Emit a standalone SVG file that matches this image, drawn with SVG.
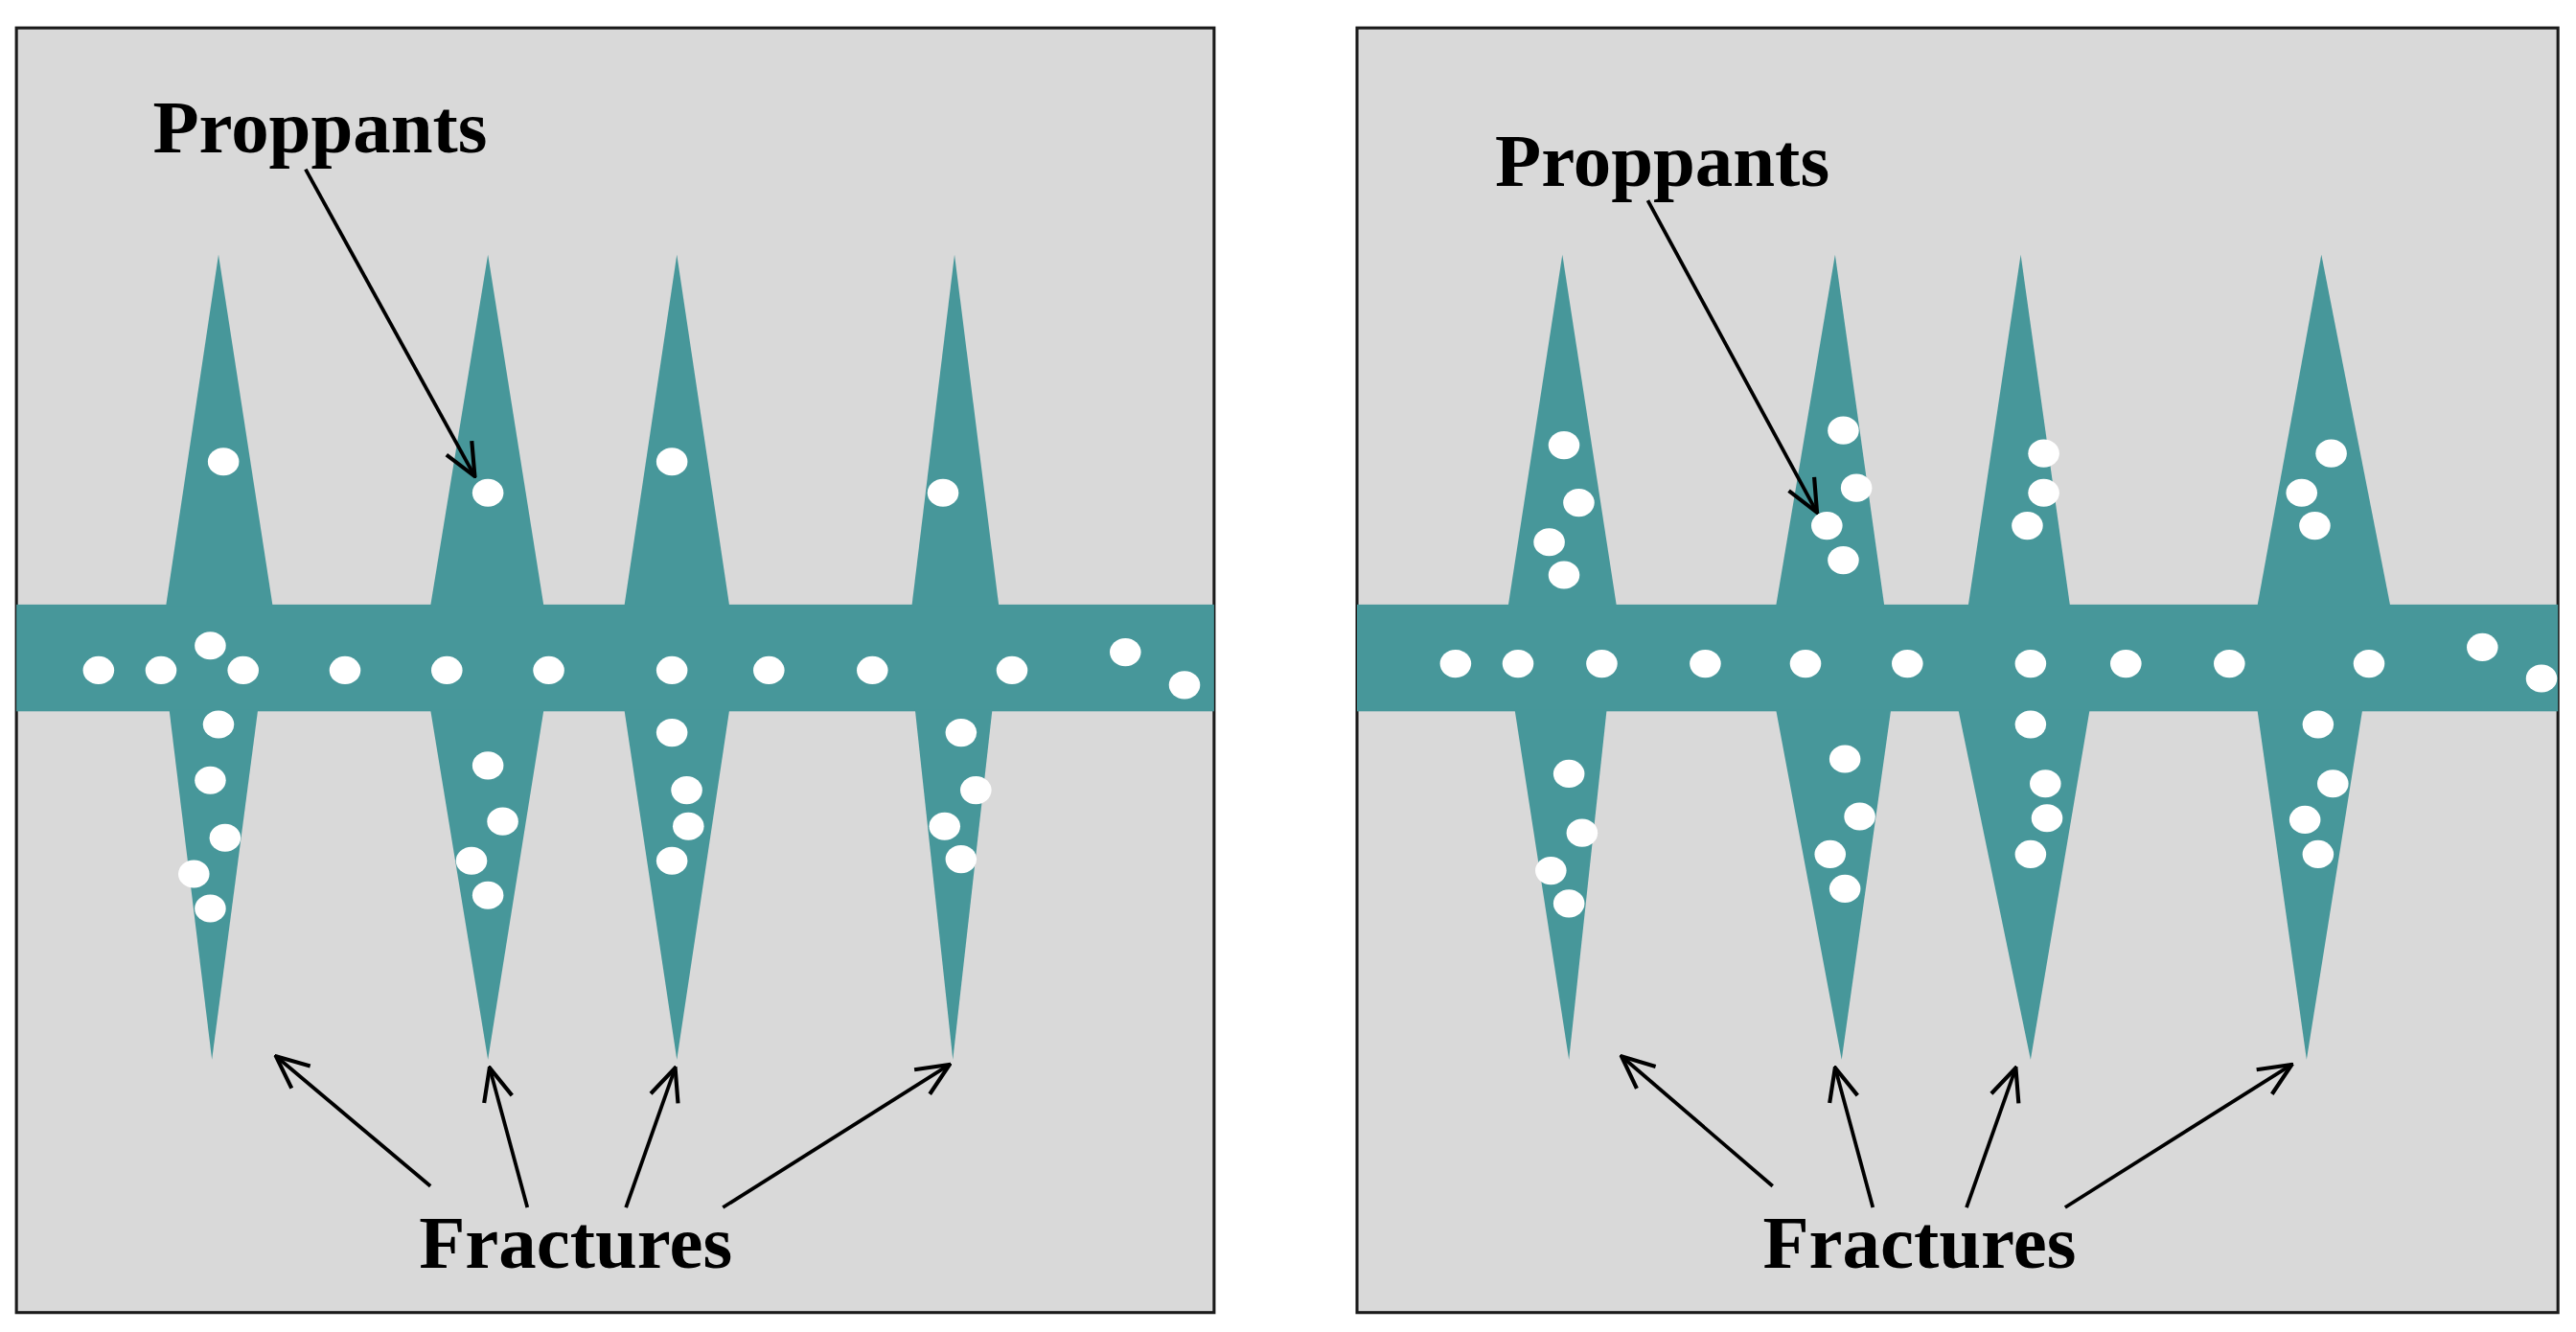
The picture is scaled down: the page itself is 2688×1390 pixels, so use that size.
<svg xmlns="http://www.w3.org/2000/svg" width="2688" height="1390" viewBox="0 0 2688 1390">
<style>
.panel{fill:#d9d9d9;stroke:#1a1a1a;stroke-width:1.8}
.t{fill:#47979a}
.p{fill:#fff}
.lbl{font-family:"Liberation Serif",serif;font-weight:bold;fill:#000;font-size:46px}
.ar{stroke:#000;stroke-width:2.2;fill:none;marker-end:url(#ah)}
</style>
<defs>
<marker id="ah" viewBox="0 0 20 20" refX="19" refY="10" markerWidth="22" markerHeight="22" markerUnits="userSpaceOnUse" orient="auto"><path d="M1,2 L19,10 L1,18" fill="none" stroke="#000" stroke-width="2.2"/></marker>
<ellipse id="c" rx="9.5" ry="8.5" class="p"/>
</defs>
<rect width="2688" height="1390" fill="#fff"/>
<g transform="scale(1.7143)">
<g id="panel-left">
<rect class="panel" x="10" y="17" width="729" height="782"/>
<rect class="t" x="10" y="368" width="729" height="65"/>
<polygon class="t" points="133,155 166,369 101,369"/><polygon class="t" points="103,432 157,432 129,645"/>
<polygon class="t" points="297,155 331,369 262,369"/><polygon class="t" points="262,432 331,432 297,645"/>
<polygon class="t" points="412,155 444,369 380,369"/><polygon class="t" points="380,432 444,432 412,645"/>
<polygon class="t" points="581,155 608,369 555,369"/><polygon class="t" points="557,432 604,432 580,645"/>
<g>
<use href="#c" x="136" y="281"/><use href="#c" x="297" y="300"/><use href="#c" x="409" y="281"/><use href="#c" x="574" y="300"/>
<use href="#c" x="60" y="408"/><use href="#c" x="98" y="408"/><use href="#c" x="128" y="393"/><use href="#c" x="148" y="408"/><use href="#c" x="210" y="408"/><use href="#c" x="272" y="408"/><use href="#c" x="334" y="408"/><use href="#c" x="409" y="408"/><use href="#c" x="468" y="408"/><use href="#c" x="531" y="408"/><use href="#c" x="616" y="408"/><use href="#c" x="685" y="397"/><use href="#c" x="721" y="417"/>
<use href="#c" x="133" y="441"/><use href="#c" x="128" y="475"/><use href="#c" x="137" y="510"/><use href="#c" x="118" y="532"/><use href="#c" x="128" y="553"/>
<use href="#c" x="297" y="466"/><use href="#c" x="306" y="500"/><use href="#c" x="287" y="524"/><use href="#c" x="297" y="545"/>
<use href="#c" x="409" y="446"/><use href="#c" x="418" y="481"/><use href="#c" x="419" y="503"/><use href="#c" x="409" y="524"/>
<use href="#c" x="585" y="446"/><use href="#c" x="594" y="481"/><use href="#c" x="575" y="503"/><use href="#c" x="585" y="523"/>
</g>
<text class="lbl" x="93" y="93">Proppants</text>
<text class="lbl" x="255" y="772">Fractures</text>
</g>
<g id="panel-right">
<rect class="panel" x="826" y="17" width="731" height="782"/>
<rect class="t" x="826" y="368" width="731" height="65"/>
<polygon class="t" points="951,155 984,369 918,369"/><polygon class="t" points="922,432 978,432 955,645"/>
<polygon class="t" points="1117,155 1147,369 1081,369"/><polygon class="t" points="1081,432 1151,432 1121,645"/>
<polygon class="t" points="1230,155 1260,369 1198,369"/><polygon class="t" points="1192,432 1272,432 1236,645"/>
<polygon class="t" points="1413,155 1455,369 1374,369"/><polygon class="t" points="1374,432 1438,432 1404,645"/>
<g>
<use href="#c" x="952" y="271"/><use href="#c" x="961" y="306"/><use href="#c" x="943" y="330"/><use href="#c" x="952" y="350"/>
<use href="#c" x="1122" y="262"/><use href="#c" x="1130" y="297"/><use href="#c" x="1112" y="320"/><use href="#c" x="1122" y="341"/>
<use href="#c" x="1244" y="276"/><use href="#c" x="1244" y="300"/><use href="#c" x="1234" y="320"/>
<use href="#c" x="1419" y="276"/><use href="#c" x="1401" y="300"/><use href="#c" x="1409" y="320"/>
<use href="#c" x="886" y="404"/><use href="#c" x="924" y="404"/><use href="#c" x="975" y="404"/><use href="#c" x="1038" y="404"/><use href="#c" x="1099" y="404"/><use href="#c" x="1161" y="404"/><use href="#c" x="1236" y="404"/><use href="#c" x="1294" y="404"/><use href="#c" x="1357" y="404"/><use href="#c" x="1442" y="404"/><use href="#c" x="1511" y="394"/><use href="#c" x="1547" y="413"/>
<use href="#c" x="955" y="471"/><use href="#c" x="963" y="507"/><use href="#c" x="944" y="530"/><use href="#c" x="955" y="550"/>
<use href="#c" x="1123" y="462"/><use href="#c" x="1132" y="497"/><use href="#c" x="1114" y="520"/><use href="#c" x="1123" y="541"/>
<use href="#c" x="1236" y="441"/><use href="#c" x="1245" y="477"/><use href="#c" x="1246" y="498"/><use href="#c" x="1236" y="520"/>
<use href="#c" x="1411" y="441"/><use href="#c" x="1420" y="477"/><use href="#c" x="1403" y="499"/><use href="#c" x="1411" y="520"/>
</g>
<text class="lbl" x="910" y="113">Proppants</text>
<text class="lbl" x="1073" y="772">Fractures</text>
</g>
<g id="connectors">
<line class="ar" x1="186" y1="103" x2="289" y2="290"/>
<line class="ar" x1="262" y1="722" x2="168" y2="643"/>
<line class="ar" x1="321" y1="735" x2="298" y2="650"/>
<line class="ar" x1="381" y1="735" x2="411" y2="650"/>
<line class="ar" x1="440" y1="735" x2="578" y2="648"/>
<line class="ar" x1="1003" y1="122" x2="1106" y2="312"/>
<line class="ar" x1="1079" y1="722" x2="987" y2="643"/>
<line class="ar" x1="1140" y1="735" x2="1117" y2="650"/>
<line class="ar" x1="1197" y1="735" x2="1227" y2="650"/>
<line class="ar" x1="1257" y1="735" x2="1395" y2="648"/>
</g>
</g>
</svg>
